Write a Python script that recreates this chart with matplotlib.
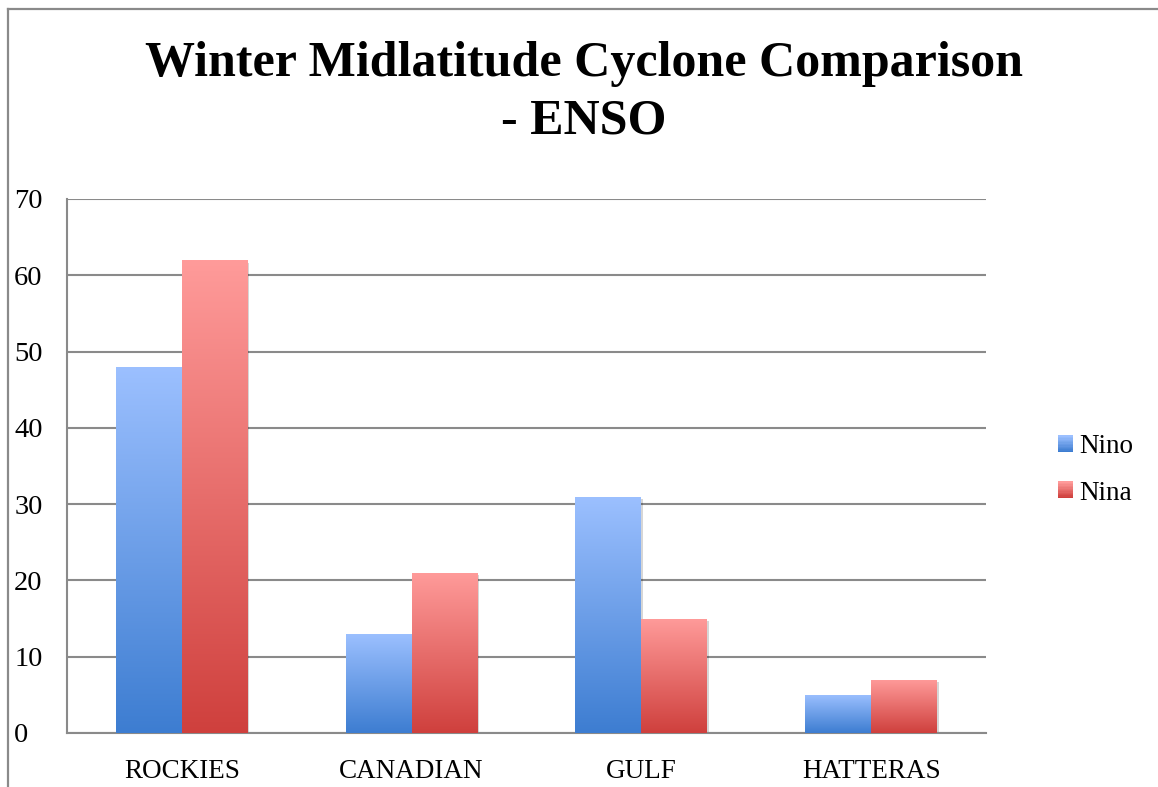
import numpy as np
import matplotlib
matplotlib.use("Agg")
import matplotlib.pyplot as plt
from matplotlib.colors import LinearSegmentedColormap
from matplotlib.patches import Rectangle
from matplotlib.legend_handler import HandlerBase
from matplotlib.lines import Line2D
import matplotlib.patheffects as pe

# ---- data ----
categories = ["ROCKIES", "CANADIAN", "GULF", "HATTERAS"]
series_names = ["Nino", "Nina"]
nino_values = [48, 13, 31, 5]
nina_values = [62, 21, 15, 7]
y_ticks = [0, 10, 20, 30, 40, 50, 60, 70]

# gradient colours (top -> bottom)
blue_top, blue_bottom = "#9cc0ff", "#3d7dd1"
red_top, red_bottom = "#ff9b9a", "#cf403d"

FONT = "Liberation Serif"
GRID = "#8a8a8a"

fig = plt.figure(figsize=(11.58, 7.87), dpi=100)
W, H = 1158, 787
ax = fig.add_axes([67 / W, 1 - 733 / H, (986 - 67) / W, (733 - 199) / H])

x = np.arange(len(categories))
bw = 0.287

grad = np.linspace(1, 0, 256).reshape(-1, 1)


def gradient_bars(xpos, values, top, bottom):
    cmap = LinearSegmentedColormap.from_list("g", [bottom, top])
    bars = ax.bar(xpos, values, width=bw, facecolor="none", edgecolor="none",
                  zorder=2)
    for b in bars:
        b.set_path_effects([pe.SimplePatchShadow(offset=(1.2, -1.8),
                                                 shadow_rgbFace="#000000",
                                                 alpha=0.16),
                            pe.Normal()])
        x0, y0 = b.get_x(), b.get_y()
        im = ax.imshow(grad, extent=(x0, x0 + b.get_width(), y0, y0 + b.get_height()),
                       cmap=cmap, vmin=0, vmax=1, aspect="auto", zorder=3,
                       interpolation="bilinear")
        im.set_clip_path(b)
    return bars


gradient_bars(x - bw / 2, nino_values, blue_top, blue_bottom)
gradient_bars(x + bw / 2, nina_values, red_top, red_bottom)
ax.set_xlim(-0.5, len(categories) - 0.5)
ax.set_ylim(0, 70)

# axes styling
ax.set_yticks(y_ticks)
ax.yaxis.grid(True, color=GRID, linewidth=1.5, zorder=0)
ax.set_axisbelow(True)
for s in ("top", "right"):
    ax.spines[s].set_visible(False)
for s in ("left", "bottom"):
    ax.spines[s].set_color(GRID)
    ax.spines[s].set_linewidth(1.5)
ax.set_xticks(x)
ax.set_xticklabels(categories, fontfamily=FONT, fontsize=19.5)
ax.tick_params(axis="x", length=0, pad=19)
ax.tick_params(axis="y", length=0, pad=38)
for lab in ax.get_yticklabels():
    lab.set_fontfamily(FONT)
    lab.set_fontsize(20.5)
    lab.set_horizontalalignment("left")


class GradientHandler(HandlerBase):
    def __init__(self, top, bottom, **kw):
        super().__init__(**kw)
        self.top, self.bottom = top, bottom

    def create_artists(self, legend, orig_handle, xdescent, ydescent, width,
                       height, fontsize, trans):
        cmap = LinearSegmentedColormap.from_list("g", [self.bottom, self.top])
        n = 12
        arts = []
        for i in range(n):
            r = Rectangle((-xdescent, -ydescent + height * i / n), width,
                          height / n + 0.3, facecolor=cmap(i / (n - 1)),
                          edgecolor="none", transform=trans)
            arts.append(r)
        return arts


h_nino = Rectangle((0, 0), 1, 1)
h_nina = Rectangle((0, 0), 1, 1)
leg = ax.legend([h_nino, h_nina], series_names,
                handler_map={h_nino: GradientHandler(blue_top, blue_bottom),
                             h_nina: GradientHandler(red_top, red_bottom)},
                loc="center left", bbox_to_anchor=(1058 / W, 1 - 470 / H),
                bbox_transform=fig.transFigure, frameon=False,
                prop={"family": FONT, "size": 19.5},
                handlelength=0.56, handleheight=0.56, handletextpad=0.22,
                labelspacing=0.78, borderpad=0, borderaxespad=0)

# title
fig.text(584 / W, 1 - 76 / H, "Winter Midlatitude Cyclone Comparison",
         ha="center", va="baseline", fontfamily=FONT, fontweight="bold",
         fontsize=36)
fig.text(584 / W, 1 - 133 / H, "- ENSO",
         ha="center", va="baseline", fontfamily=FONT, fontweight="bold",
         fontsize=36)

# chart frame
fig.add_artist(Line2D([8 / W, 8 / W], [0, 1 - 9 / H], color=GRID, lw=1.6,
                      transform=fig.transFigure))
fig.add_artist(Line2D([8 / W, 1], [1 - 9 / H, 1 - 9 / H], color=GRID, lw=1.6,
                      transform=fig.transFigure))

fig.savefig("out.png", dpi=100)
